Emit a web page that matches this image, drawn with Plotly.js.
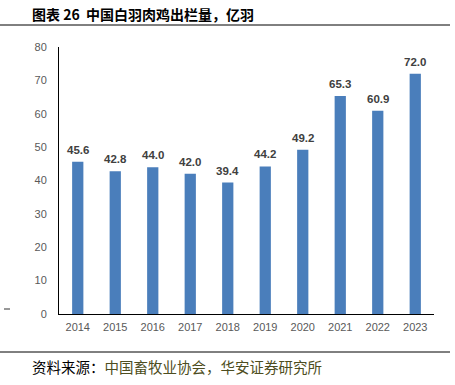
<!DOCTYPE html>
<html>
<head>
<meta charset="utf-8">
<script src="https://cdn.plot.ly/plotly-3.0.1.min.js"></script>
<style>html,body{margin:0;padding:0;background:#fff;}#chart{width:455px;height:385px;}</style>
</head>
<body>
<div id="chart"></div>
<script>
var years = ['2014','2015','2016','2017','2018','2019','2020','2021','2022','2023'];
var values = [45.6, 42.8, 44.0, 42.0, 39.4, 44.2, 49.2, 65.3, 60.9, 72.0];
var yTicks = [0,10,20,30,40,50,60,70,80];

var L = 59, R = 434, T = 47, B = 314, W = 455, H = 385;
function px(x){ return (x - L) / (R - L); }
function py(y){ return (B - y) / (B - T); }

var trace = {
  type: 'bar',
  x: years,
  y: values,
  marker: {color: '#4a7ebb'},
  width: 0.3,
  hoverinfo: 'none'
};

var labelAnnots = years.map(function(yr, i){
  return {
    x: i, y: values[i], xref: 'x', yref: 'y',
    text: '<b>' + values[i].toFixed(1) + '</b>',
    showarrow: false, yanchor: 'bottom', xanchor: 'center', yshift: 4,
    font: {family: 'Liberation Sans, Arial, sans-serif', size: 11.5, color: '#404040'}
  };
});

var layout = {
  width: W, height: H,
  margin: {l: L, r: W - R, t: T, b: H - B},
  paper_bgcolor: '#fff', plot_bgcolor: '#fff',
  showlegend: false,
  font: {family: 'Liberation Sans, Arial, sans-serif'},
  xaxis: {
    type: 'category',
    range: [-0.5, years.length - 0.5],
    showline: true, linecolor: '#000', linewidth: 1,
    ticks: '', showgrid: false, zeroline: false,
    tickfont: {size: 11, color: '#595959'},
    ticklabelstandoff: 3
  },
  yaxis: {
    range: [0, 80], tickvals: yTicks,
    showline: true, linecolor: '#000', linewidth: 1,
    ticks: '', showgrid: false, zeroline: false,
    tickfont: {size: 11, color: '#595959'},
    ticklabelstandoff: 9
  },
  shapes: [
    {type: 'line', xref: 'paper', yref: 'paper', x0: px(0), x1: px(450), y0: py(25), y1: py(25), line: {color: '#000', width: 1}},
    {type: 'line', xref: 'paper', yref: 'paper', x0: px(0), x1: px(450), y0: py(352), y1: py(352), line: {color: '#000', width: 1}},
    {type: 'line', xref: 'paper', yref: 'paper', x0: px(4), x1: px(10), y0: py(309), y1: py(309), line: {color: '#333', width: 1}}
  ],
  annotations: labelAnnots.concat([
    {xref: 'paper', yref: 'paper', x: px(30), y: py(14), xanchor: 'left', yanchor: 'middle', showarrow: false,
     text: '<b>图表 26  中国白羽肉鸡出栏量，亿羽</b>',
     font: {family: 'Noto Sans CJK SC, sans-serif', size: 14, color: '#000'}},
    {xref: 'paper', yref: 'paper', x: px(30), y: py(366), xanchor: 'left', yanchor: 'middle', showarrow: false,
     text: '资料来源：<span style="color:#4d4d20">中国畜牧业协会，华安证券研究所</span>',
     font: {family: 'Noto Sans CJK SC, sans-serif', size: 14.5, color: '#000'}}
  ])
};

Plotly.newPlot('chart', [trace], layout, {displayModeBar: false, staticPlot: true});
</script>
</body>
</html>
